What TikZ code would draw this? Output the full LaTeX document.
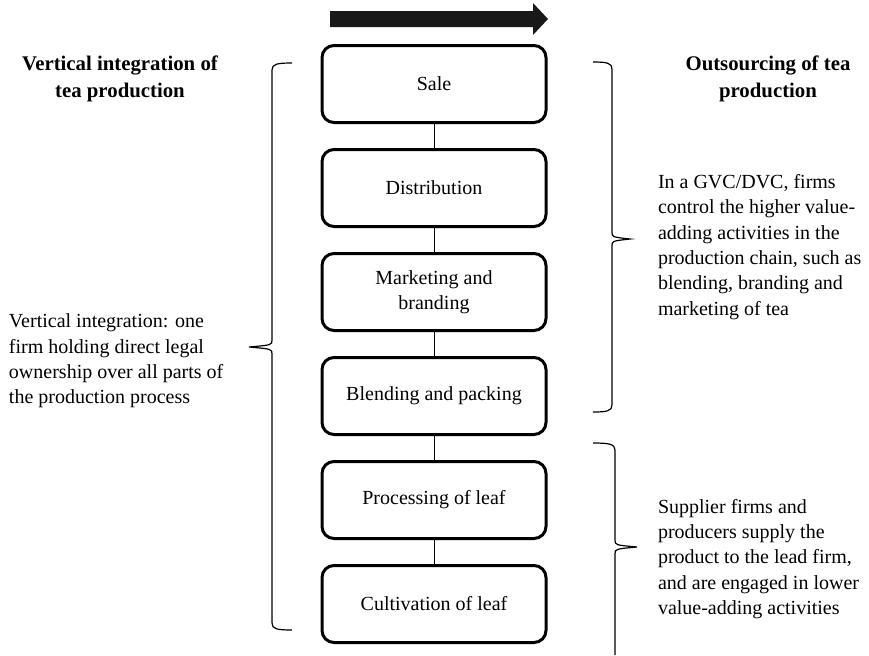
\documentclass[tikz,border=0pt]{standalone}
\usepackage{fontspec}
\setmainfont{Liberation Serif}
\usetikzlibrary{positioning}

\begin{document}
\begin{tikzpicture}[x=.5pt,y=-.5pt,
	every node/.style={inner sep=1,outer sep=0,font=\fontsize{10}{12.7}\selectfont},
	stage/.style={draw,line width=1.5pt,rounded corners=6pt,minimum width=112pt,minimum height=38.5pt,align=center},
	note/.style={anchor=west,align=left},
	head/.style={align=center,font=\fontsize{10.4}{13.5}\selectfont\bfseries},
	link/.style={line width=.5pt},
	brace/.style={line width=.6pt}]
	\useasboundingbox (0,0) rectangle (869,655);
	% direction arrow
	\fill[black!90] (330,11) -- (533,11) -- (533,3) -- (548,19) -- (533,35) -- (533,27) -- (330,27) -- cycle;
	% the chain
	\node[stage] (sale) at (434,84) {Sale};
	\node[stage] (dist) at (434,188) {Distribution};
	\node[stage] (mark) at (434,292) {Marketing and\\branding};
	\node[stage] (blend) at (434,396) {Blending and packing};
	\node[stage] (proc) at (434,500) {Processing of leaf};
	\node[stage] (cult) at (434,604) {Cultivation of leaf};
	\draw[link] (sale) -- (dist);
	\draw[link] (dist) -- (mark);
	\draw[link] (mark) -- (blend);
	\draw[link] (blend) -- (proc);
	\draw[link] (proc) -- (cult);
	% braces
	\draw[brace] (292,63) .. controls (277,63) and (272,64) .. (272,70) -- (272,340)
		.. controls (272,345) .. (249,347) .. controls (272,349) .. (272,354) -- (272,623)
		.. controls (272,629) and (277,630) .. (292,630);
	\draw[brace] (593,62) .. controls (607,62) and (612,63) .. (612,69) -- (612,232)
		.. controls (612,237) .. (630,239) .. controls (612,241) .. (612,246) -- (612,405)
		.. controls (612,411) and (607,412) .. (593,412);
	\draw[brace] (593,443) .. controls (609,443) and (615,444) .. (615,450) -- (615,540)
		.. controls (615,545) .. (637,547) .. controls (615,549) .. (615,554) -- (615,655);
	% texts
	\node[head] (lefthead) at (120,79) {Vertical integration of\\tea production};
	\node[head] (righthead) at (768,79) {Outsourcing of tea\\production};
	\node[note] (lefttext) at (7,361) {Vertical integration: one\\firm holding direct legal\\ownership over all parts of\\the production process};
	\node[note] (uptext) at (656,247) {In a GVC/DVC, firms\\control the higher value-\\adding activities in the\\production chain, such as\\blending, branding and\\marketing of tea};
	\node[note] (lowtext) at (656,559) {Supplier firms and\\producers supply the\\product to the lead firm,\\and are engaged in lower\\value-adding activities};
\end{tikzpicture}
\end{document}
